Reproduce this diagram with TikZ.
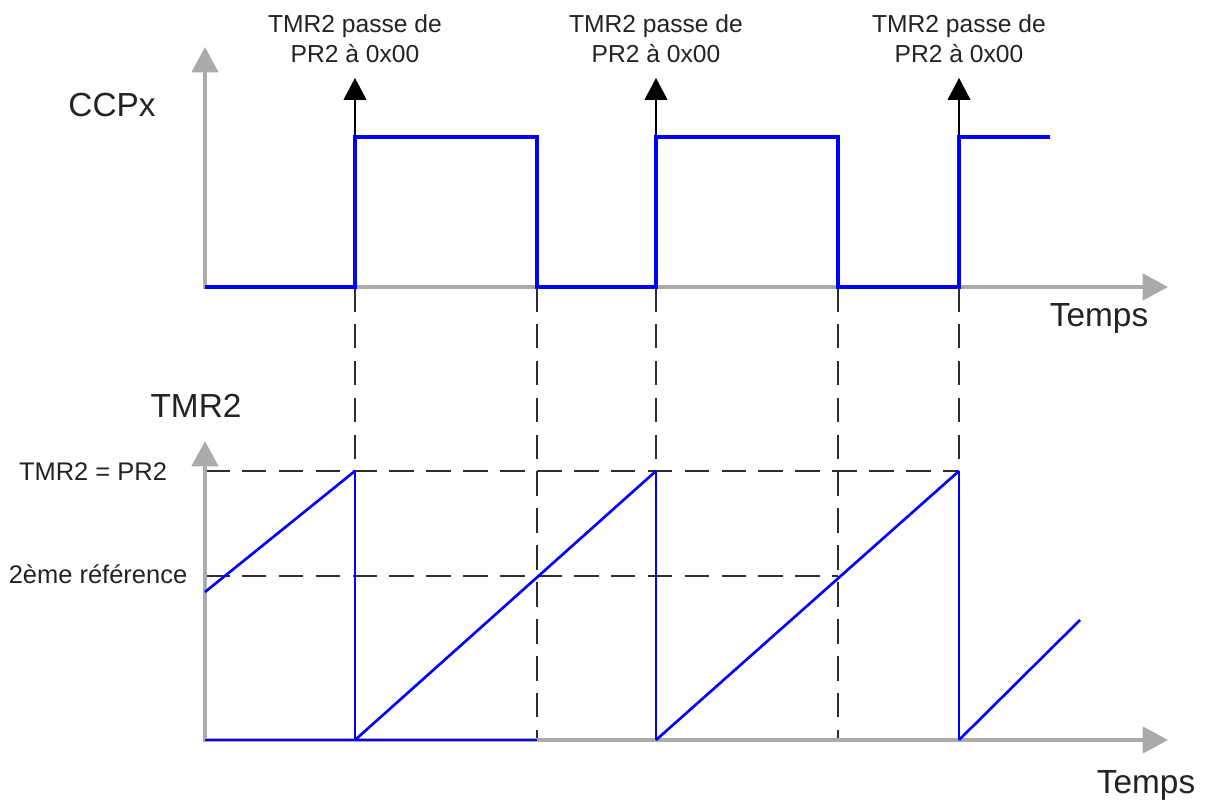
\documentclass[tikz,border=0pt]{standalone}
\usepackage{fontspec}
\setmainfont{Liberation Sans}
\usepackage{tikz}
\usetikzlibrary{arrows.meta, positioning}
\definecolor{cSig}{RGB}{0,0,255}
\definecolor{cAxis}{RGB}{170,170,170}
\definecolor{cGuide}{RGB}{45,45,45}
\definecolor{cText}{RGB}{35,35,35}
\tikzset{
	axis/.style    ={draw=cAxis, line width=2.3pt, {Triangle[length=14.5pt, width=15pt]}-{Triangle[length=14.5pt, width=15pt]}},
	ccpline/.style ={draw=cSig, line width=2.3pt},
	ramp/.style    ={draw=cSig, line width=1.5pt},
	drop/.style    ={draw=cSig, line width=0.8pt},
	guide/.style   ={draw=cGuide, line width=0.8pt, dash pattern=on 14pt off 7pt},
	evarrow/.style ={-{Triangle[length=12.5pt, width=13pt]}, line width=0.75pt, shorten >=8.5pt},
	evlbl/.style   ={font=\fontsize{14}{17}\selectfont, text=cText, align=center, inner sep=0pt},
	axlbl/.style   ={font=\fontsize{19}{23}\selectfont, text=cText, inner sep=0pt, anchor=base},
	lvl/.style     ={font=\fontsize{14.5}{17}\selectfont, text=cText, inner sep=0pt, anchor=base},
}
% one reload of TMR2: guide line, arrow and its label
\newcommand{\reload}[2]{%
	\coordinate (e#1) at (#2,137);
	\draw[guide] (#2,287) -- (#2,740);
	\node[evlbl, above=1.48cm of e#1] (lab#1) {TMR2 passe de\\PR2 à 0x00};
	\draw[evarrow] (e#1) -- (lab#1);}

\begin{document}
\begin{tikzpicture}[x=0.02cm, y=-0.02cm]
	\useasboundingbox (0,0) rectangle (1213,800);
	% guides
	\reload{1}{355}
	\reload{2}{656}
	\reload{3}{959}
	\draw[guide] (537,287) -- (537,740);
	\draw[guide] (838,287) -- (838,740);
	\draw[guide] (205,471) -- (959,471);
	\draw[guide] (205,576) -- (838,576);
	% axes
	\draw[axis] (205,47) -- (205,287) -- (1168,287);
	\draw[axis] (205,441) -- (205,740) -- (1168,740);
	% CCPx output
	\draw[ccpline] (205,287) -- (355,287) -- (355,137) -- (537,137) -- (537,287)
		-- (656,287) -- (656,137) -- (838,137) -- (838,287) -- (959,287) -- (959,137) -- (1050,137);
	% TMR2 count
	\draw[ramp] (205,740) -- (537,740);
	\draw[ramp] (205,592) -- (355,471);
	\draw[drop] (355,471) -- (355,740);
	\draw[ramp] (355,740) -- (656,471);
	\draw[drop] (656,471) -- (656,740);
	\draw[ramp] (656,740) -- (959,471);
	\draw[drop] (959,471) -- (959,740);
	\draw[ramp] (959,740) -- (1080,620);
	% labels
	\node[axlbl] (ccpx) at (112,117) {CCPx};
	\node[axlbl] (tmr) at (196,417) {TMR2};
	\node[axlbl] (tpsA) at (1099,327) {Temps};
	\node[axlbl] (tpsB) at (1146,793) {Temps};
	\node[lvl] (pr2) at (93,480) {TMR2 = PR2};
	\node[lvl] (ref2) at (98,583) {2ème référence};
\end{tikzpicture}
\end{document}
